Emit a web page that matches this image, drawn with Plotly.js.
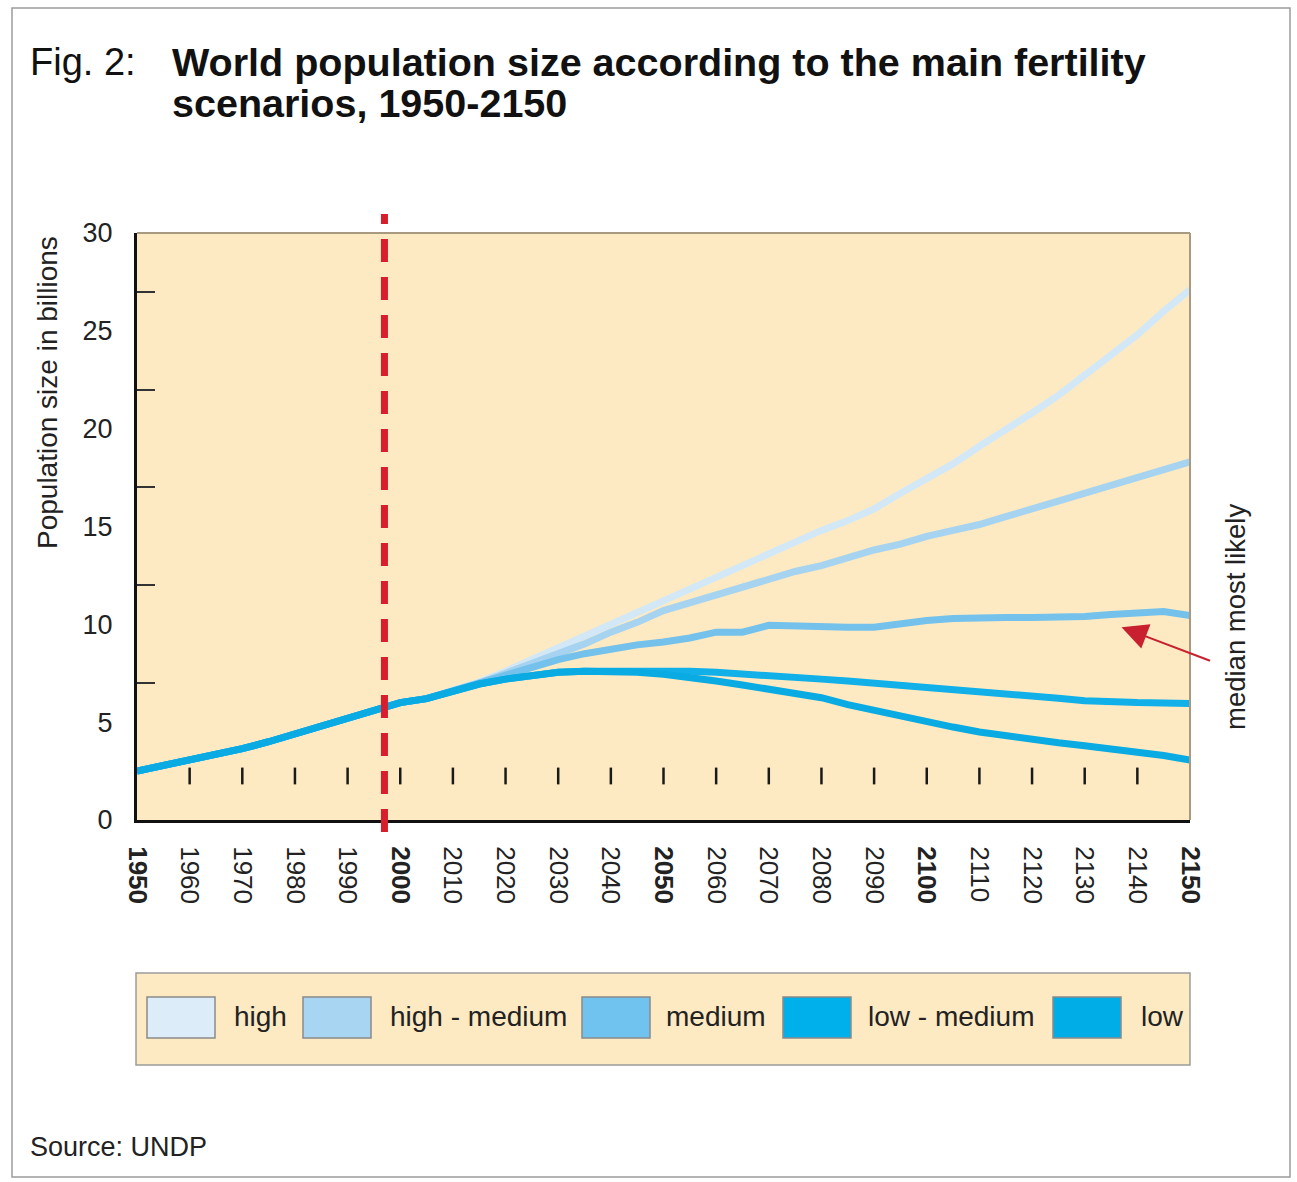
<!DOCTYPE html>
<html>
<head>
<meta charset="utf-8">
<script src="https://cdn.plot.ly/plotly-3.0.1.min.js"></script>
<style>
  html, body { margin: 0; padding: 0; background: #ffffff; }
  #chart { width: 1297px; height: 1182px; }
</style>
</head>
<body>
<div id="chart"></div>
<script>
// ---------------- data ----------------
const years = [1950,1955,1960,1965,1970,1975,1980,1985,1990,1995,2000,2005,2010,2015,2020,2025,2030,2035,2040,2045,2050,2055,2060,2065,2070,2075,2080,2085,2090,2095,2100,2105,2110,2115,2120,2125,2130,2135,2140,2145,2150];

const history = [2.5,2.78,3.05,3.35,3.65,4.0,4.4,4.8,5.2,5.6,6.0,6.2,6.6];

const highFuture       = [7.05,7.6,8.2,8.8,9.4,10.0,10.6,11.2,11.8,12.4,13.0,13.6,14.2,14.8,15.3,15.9,16.7,17.4,18.2,19.1,19.9,20.8,21.7,22.7,23.7,24.8,26.0,27.1];
const highMediumFuture = [7.0,7.5,8.0,8.5,9.0,9.6,10.1,10.7,11.1,11.5,11.9,12.3,12.7,13.0,13.4,13.8,14.1,14.5,14.8,15.1,15.5,15.9,16.3,16.7,17.1,17.5,17.9,18.3];
const mediumFuture     = [7.0,7.4,7.8,8.2,8.5,8.75,8.95,9.1,9.3,9.6,9.6,9.95,9.9,9.85,9.85,9.85,10.05,10.2,10.3,10.35,10.35,10.35,10.35,10.4,10.5,10.6,10.65,10.45];
const lowMediumFuture  = [6.95,7.2,7.4,7.55,7.6,7.62,7.62,7.63,7.6,7.55,7.48,7.4,7.28,7.2,7.1,7.0,6.9,6.8,6.68,6.56,6.45,6.33,6.22,6.1,6.03,6.0,5.98,5.96];
const lowFuture        = [6.95,7.2,7.4,7.55,7.6,7.58,7.55,7.45,7.3,7.1,6.9,6.7,6.5,6.25,5.9,5.6,5.3,5.0,4.75,4.5,4.3,4.1,3.95,3.8,3.65,3.45,3.3,3.07];

const scenarioNames  = ['high','high - medium','medium','low - medium','low'];
const scenarioColors = ['#d3e8f6','#a6d3f0','#74c2ec','#12b0e8','#0aaae2'];
const swatchColors   = ['#dcedf9','#a8d6f2','#70c3ee','#00b0ea','#00ade6'];

const xTickYears  = [1950,1960,1970,1980,1990,2000,2010,2020,2030,2040,2050,2060,2070,2080,2090,2100,2110,2120,2130,2140,2150];
const xTickLabels = ['<b>1950</b>','1960','1970','1980','1990','<b>2000</b>','2010','2020','2030','2040','<b>2050</b>','2060','2070','2080','2090','<b>2100</b>','2110','2120','2130','2140','<b>2150</b>'];
const yTickValues = [0,5,10,15,20,25,30];
const yMinorTicks = [7,12,17,22,27];
const innerMarkYears = [1960,1970,1980,1990,2000,2010,2020,2030,2040,2050,2060,2070,2080,2090,2100,2110,2120,2130,2140];
const innerMarkLevel = 2.25;
const baseYear = 1997;

const seriesValues = [
  history.concat(highFuture),
  history.concat(highMediumFuture),
  history.concat(mediumFuture),
  history.concat(lowMediumFuture),
  history.concat(lowFuture)
];

// ---------------- layout helpers ----------------
const FIG_W = 1297, FIG_H = 1182;
const L = 137, R = 1190, T = 233, B = 820;
const W = R - L, H = B - T;
const px = x => (x - L) / W;
const py = y => (B - y) / H;

const SANS = '"Liberation Sans", Arial, Helvetica, sans-serif';

// ---------------- traces ----------------
const traces = seriesValues.map((vals, i) => ({
  type: 'scatter', mode: 'lines',
  x: years, y: vals,
  name: scenarioNames[i],
  line: { color: scenarioColors[i], width: 7, shape: 'linear' },
  hoverinfo: 'skip', showlegend: false
}));

traces.push({
  type: 'scatter', mode: 'markers',
  x: innerMarkYears, y: innerMarkYears.map(() => innerMarkLevel),
  marker: { symbol: 'line-ns-open', size: 12, color: '#1a1a1a', line: { color: '#1a1a1a', width: 2.5 } },
  hoverinfo: 'skip', showlegend: false
});

// ---------------- shapes ----------------
const shapes = [
  { type: 'rect', xref: 'paper', yref: 'paper', x0: px(12), x1: px(1290), y0: py(1177), y1: py(8),
    line: { color: '#9c9c9c', width: 1.5 }, fillcolor: 'rgba(0,0,0,0)', layer: 'below' },
  { type: 'line', xref: 'paper', yref: 'paper', x0: 0, x1: 1, y0: 1, y1: 1, line: { color: '#a89a80', width: 2 } },
  { type: 'line', xref: 'paper', yref: 'paper', x0: 1, x1: 1, y0: 0, y1: 1, line: { color: '#a89a80', width: 2 } },
  { type: 'line', xref: 'x', yref: 'paper', x0: baseYear, x1: baseYear, y0: py(832), y1: py(214),
    line: { color: '#d81e2c', width: 7, dash: '23px,15px' }, layer: 'above' },
  { type: 'rect', xref: 'paper', yref: 'paper', x0: px(136), x1: px(1190), y0: py(1065), y1: py(973),
    line: { color: '#9c9c9c', width: 1.5 }, fillcolor: '#fdeac3', layer: 'below' }
];

const swatchX = [147, 303, 582, 783, 1053];
const labelX  = [232, 388, 664, 866, 1139];
const annotations = [];

scenarioNames.forEach((nm, i) => {
  shapes.push({ type: 'rect', xref: 'paper', yref: 'paper',
    x0: px(swatchX[i]), x1: px(swatchX[i] + 68), y0: py(1038), y1: py(997),
    line: { color: '#8a8a8a', width: 1.5 }, fillcolor: swatchColors[i] });
  annotations.push({ xref: 'paper', yref: 'paper', x: px(labelX[i]), y: py(1016),
    xanchor: 'left', yanchor: 'middle', showarrow: false, text: nm,
    font: { family: SANS, size: 28, color: '#222222' } });
});

annotations.push(
  { xref: 'paper', yref: 'paper', x: px(28), y: py(62), xanchor: 'left', yanchor: 'middle', showarrow: false,
    text: 'Fig. 2:', font: { family: SANS, size: 38, color: '#111111' } },
  { xref: 'paper', yref: 'paper', x: px(170), y: py(62), xanchor: 'left', yanchor: 'middle', showarrow: false,
    text: '<b>World population size according to the main fertility</b>', font: { family: SANS, size: 39.5, color: '#111111' } },
  { xref: 'paper', yref: 'paper', x: px(170), y: py(103), xanchor: 'left', yanchor: 'middle', showarrow: false,
    text: '<b>scenarios, 1950-2150</b>', font: { family: SANS, size: 39.5, color: '#111111' } },
  { xref: 'paper', yref: 'paper', x: px(47), y: py(393), xanchor: 'center', yanchor: 'middle', showarrow: false,
    textangle: -90, text: 'Population size in billions', font: { family: SANS, size: 28, color: '#222222' } },
  { xref: 'paper', yref: 'paper', x: px(1235), y: py(617), xanchor: 'center', yanchor: 'middle', showarrow: false,
    textangle: -90, text: 'median most likely', font: { family: SANS, size: 27.5, color: '#222222' } },
  { xref: 'x', yref: 'y', x: 2137, y: 9.85, ax: 90, ay: 34, text: '', showarrow: true,
    arrowhead: 2, arrowsize: 2.6, arrowwidth: 2, arrowcolor: '#c8202e' },
  { xref: 'paper', yref: 'paper', x: px(28), y: py(1147), xanchor: 'left', yanchor: 'middle', showarrow: false,
    text: 'Source: UNDP', font: { family: SANS, size: 27, color: '#222222' } }
);

// ---------------- layout ----------------
const layout = {
  width: FIG_W, height: FIG_H,
  margin: { l: L, r: FIG_W - R, t: T, b: FIG_H - B, pad: 0 },
  paper_bgcolor: '#ffffff',
  plot_bgcolor: '#fdeac3',
  showlegend: false,
  xaxis: {
    range: [1950, 2150], showgrid: false, zeroline: false,
    showline: true, linecolor: '#111111', linewidth: 3,
    tickmode: 'array', tickvals: xTickYears, ticktext: xTickLabels,
    ticks: '', tickangle: 90, ticklabelstandoff: 18,
    tickfont: { family: SANS, size: 26, color: '#222222' }
  },
  yaxis: {
    range: [0, 30], showgrid: false, zeroline: false,
    showline: true, linecolor: '#111111', linewidth: 3,
    tickmode: 'array', tickvals: yTickValues, ticks: '',
    ticklabelstandoff: 16,
    tickfont: { family: SANS, size: 27, color: '#222222' },
    minor: { tickmode: 'array', tickvals: yMinorTicks, ticks: 'inside', ticklen: 18, tickwidth: 2, tickcolor: '#333333', showgrid: false }
  },
  shapes: shapes,
  annotations: annotations
};

Plotly.newPlot('chart', traces, layout, { staticPlot: true, displayModeBar: false });
</script>
</body>
</html>
